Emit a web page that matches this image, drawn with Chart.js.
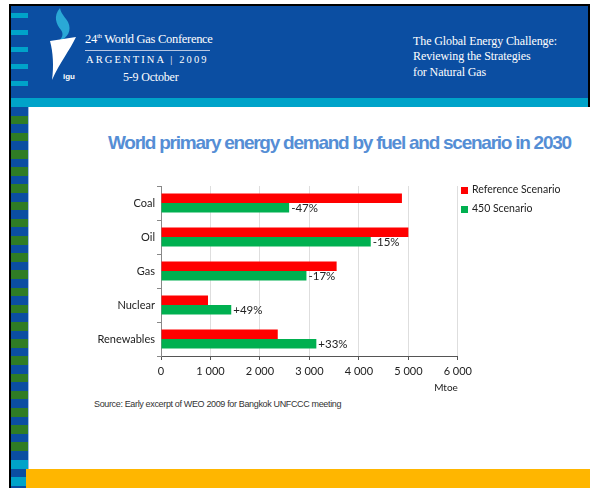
<!DOCTYPE html>
<html>
<head>
<meta charset="utf-8">
<script src="https://cdn.jsdelivr.net/npm/chart.js@4"></script>
<style>
  body { margin: 0; width: 590px; height: 488px; position: relative; background: #fff; overflow: hidden; }
  .abs { position: absolute; }
  .serif { font-family: "Liberation Serif", serif; color: #fff; white-space: nowrap; }
  #legend div { position: absolute; font: 10.5px Lato, sans-serif; color: #222; white-space: nowrap; }
  #legend span { position: absolute; width: 7px; height: 7px; }
</style>
</head>
<body>
<!-- slide frame -->
<div class="abs" style="left:9px;top:4px;width:581px;height:2px;background:#000"></div>
<div class="abs" style="left:9px;top:4px;width:2px;height:484px;background:#000"></div>
<div class="abs" style="left:588px;top:4px;width:2px;height:103px;background:#000"></div>
<div class="abs" style="left:11px;top:6px;width:577px;height:92px;background:#0b4ea2"></div>
<div class="abs" style="left:11px;top:98px;width:577px;height:9px;background:#00a3c9"></div>
<div class="abs" style="left:11px;top:13px;width:17px;height:74px;background:repeating-linear-gradient(to bottom,#00a3c9 0 5px,transparent 5px 17px)"></div>

<!-- left stripe -->
<div class="abs" style="left:11px;top:107px;width:17px;height:353px;background:repeating-linear-gradient(to bottom,#0b4ea2 0 8.6px,#2f7c25 8.6px 17.2px)"></div>
<div class="abs" style="left:11px;top:460px;width:17px;height:9px;background:#00a3c9"></div>
<div class="abs" style="left:11px;top:469px;width:17px;height:8px;background:#0b4ea2"></div>
<div class="abs" style="left:11px;top:477px;width:17px;height:9px;background:#00a3c9"></div>
<div class="abs" style="left:11px;top:486px;width:17px;height:2px;background:#0b4ea2"></div>
<div class="abs" style="left:28px;top:107px;width:1px;height:362px;background:#9dbde6"></div>
<div class="abs" style="left:26px;top:469px;width:564px;height:19px;background:#ffb600"></div>

<!-- header logo and texts -->
<svg class="abs" style="left:0;top:0" width="90" height="100">
  <path d="M60 8 C53 16,56 24,61 30 C64 34,62 38,59 41 C68 38,72 30,68 22 C66 18,61 14,60 8 Z" fill="#2aa8d6"/>
  <path d="M50 41 L76 37 C70 50,60 62,52 80 C54 66,53 52,50 41 Z" fill="#fff"/>
  <text x="63" y="79" font-family="Liberation Sans" font-weight="bold" font-size="8" fill="#fff">igu</text>
</svg>
<div class="abs serif" style="left:85px;top:32px;font-size:12.5px;letter-spacing:-0.3px">24<sup style="font-size:7px">th</sup> World Gas Conference</div>
<div class="abs" style="left:85px;top:50px;width:125px;height:1px;background:#b8c8e4"></div>
<div class="abs serif" style="left:86px;top:54px;font-size:10.5px;letter-spacing:2.1px">ARGENTINA | 2009</div>
<div class="abs serif" style="left:123px;top:70px;font-size:12px;letter-spacing:-0.2px">5-9 October</div>
<div class="abs serif" style="left:413px;top:34px;font-size:12px;line-height:15.3px;letter-spacing:-0.1px">The Global Energy Challenge:<br>Reviewing the Strategies<br>for Natural Gas</div>

<!-- title -->
<div class="abs" style="left:108px;top:132px;font:bold 19px 'Liberation Sans',Arial,sans-serif;letter-spacing:-1.25px;color:#558ed5;white-space:nowrap">World primary energy demand by fuel and scenario in 2030</div>

<!-- chart -->
<div class="abs" style="left:81px;top:176px;width:396px;height:222px">
  <canvas id="fuelChart"></canvas>
</div>

<!-- legend -->
<div id="legend">
  <span style="left:461px;top:187px;background:#ff0000"></span>
  <div style="left:472px;top:183px">Reference Scenario</div>
  <span style="left:461px;top:206px;background:#00b050"></span>
  <div style="left:472px;top:202px">450 Scenario</div>
</div>

<!-- source -->
<div class="abs" style="left:94px;top:399px;font:9px 'Liberation Sans',Arial,sans-serif;letter-spacing:-0.35px;color:#333;white-space:nowrap">Source: Early excerpt of WEO 2009 for Bangkok UNFCCC meeting</div>

<script>
// values (Mtoe, 2030)
const categories = ['Coal', 'Oil', 'Gas', 'Nuclear', 'Renewables'];
const referenceScenario = [4870, 5000, 3550, 950, 2360];
const scenario450 = [2590, 4240, 2940, 1420, 3140];
const changeLabels = ['-47%', '-15%', '-17%', '+49%', '+33%'];
const xTickLabels = ['0', '1 000', '2 000', '3 000', '4 000', '5 000', '6 000'];

// writes the % change next to each green bar
const changeLabelPlugin = {
    id: 'changeLabels',
    afterDatasetsDraw(chart) {
        const ctx = chart.ctx;
        const meta = chart.getDatasetMeta(1);
        ctx.save();
        ctx.font = '11.5px Lato';
        ctx.fillStyle = '#222';
        ctx.textBaseline = 'middle';
        meta.data.forEach((bar, i) => {
            ctx.fillText(changeLabels[i], bar.x + 2, bar.y + 1);
        });
        ctx.restore();
    }
};

new Chart(document.getElementById('fuelChart'), {
    type: 'bar',
    data: {
        labels: categories,
        datasets: [
            { label: 'Reference Scenario', data: referenceScenario, backgroundColor: '#ff0000' },
            { label: '450 Scenario', data: scenario450, backgroundColor: '#00b050' }
        ]
    },
    options: {
        indexAxis: 'y',
        responsive: true,
        maintainAspectRatio: false,
        animation: false,
        categoryPercentage: 0.56,
        barPercentage: 1.0,
        layout: { padding: { top: 10, right: 16, bottom: 0, left: 0 } },
        plugins: {
            legend: { display: false },
            tooltip: { enabled: false }
        },
        scales: {
            x: {
                min: 0,
                max: 6000,
                ticks: {
                    stepSize: 1000,
                    padding: 5,
                    color: '#222',
                    font: { family: 'Lato', size: 11 },
                    callback: (value, index) => xTickLabels[index]
                },
                grid: { color: '#dedede', tickColor: '#555', tickLength: 4 },
                border: { color: '#555' },
                title: {
                    display: true,
                    text: 'Mtoe',
                    align: 'end',
                    color: '#222',
                    font: { family: 'Lato', size: 10 },
                    padding: { top: 2, bottom: 4 }
                },
                afterFit: scale => { scale.height = 42; }
            },
            y: {
                ticks: {
                    padding: 2,
                    color: '#222',
                    font: { family: 'Lato', size: 11 }
                },
                grid: { drawOnChartArea: false, color: '#888', tickLength: 4 },
                border: { color: '#888' },
                afterFit: scale => { scale.width = 80; }
            }
        }
    },
    plugins: [changeLabelPlugin]
});
</script>
</body>
</html>
